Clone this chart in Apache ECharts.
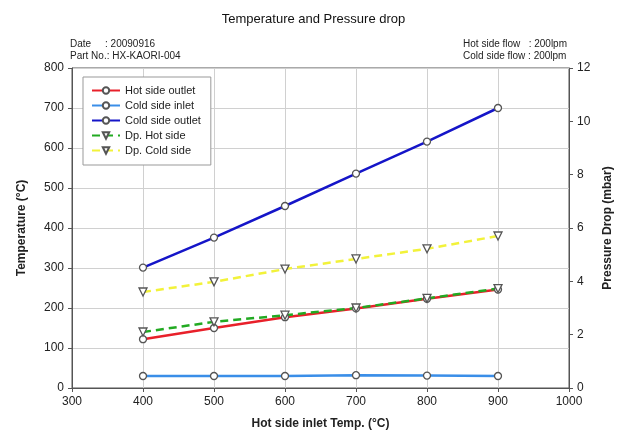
<!DOCTYPE html>
<html lang="en">
<head>
	<meta charset="UTF-8">
	<title>Temperature and Pressure drop</title>
	<style>
		html, body { margin: 0; padding: 0; background: #fff; }
		#chart_box { width: 627px; height: 443px; }
	</style>
	<script type="text/javascript" src="https://cdn.jsdelivr.net/npm/echarts@6/dist/echarts.min.js"></script>
</head>
<body>
	<div id="chart_box"></div>
	<script type="text/javascript">
	// data
	var inletTemp = [400, 500, 600, 700, 800, 900];
	var hotOutlet = [122, 150, 177, 199, 223, 246];
	var coldInlet = [30, 30, 30, 32, 31, 30];
	var coldOutlet = [301, 376, 455, 536, 616, 700];
	var dpHot = [2.1, 2.48, 2.73, 3.0, 3.36, 3.73];
	var dpCold = [3.6, 3.98, 4.46, 4.84, 5.22, 5.7];

	var pairs = function (ys) {
		var out = [];
		for (var i = 0; i < inletTemp.length; i++) out.push([inletTemp[i], ys[i]]);
		return out;
	};

	var font = 'Liberation Sans, Arial, sans-serif';
	var chart = echarts.init(document.getElementById('chart_box'));

	var lineSeries = function (name, color, ys, axis, dashed, sym) {
		return {
			name: name,
			type: 'line',
			yAxisIndex: axis,
			data: pairs(ys),
			symbol: sym,
			symbolRotate: sym === 'triangle' ? 180 : 0,
			symbolSize: sym === 'triangle' ? 8 : 7,
			showAllSymbol: true,
			lineStyle: { color: color, width: 2.5, type: dashed ? [8, 5] : 'solid' },
			itemStyle: { color: '#fff', borderColor: '#555', borderWidth: 1.3 },
			emphasis: { disabled: true },
			z: 3
		};
	};

	var option = {
		animation: false,
		textStyle: { fontFamily: font },
		title: [
			{ text: 'Temperature and Pressure drop', left: 'center', top: 8,
			  textStyle: { fontSize: 13, fontWeight: 'normal', color: '#111', fontFamily: font } }
		],
		graphic: [
			{ type: 'text', left: 70, top: 38, style: { text: 'Date     : 20090916\nPart No.: HX-KAORI-004', font: '10px ' + font, fill: '#222', lineHeight: 12 } },
			{ type: 'text', right: 60, top: 38, style: { text: 'Hot side flow   : 200lpm\nCold side flow : 200lpm', font: '10px ' + font, fill: '#222', lineHeight: 12, align: 'left' } }
		],
		legend: {
			orient: 'vertical',
			left: 83, top: 77,
			itemWidth: 28, itemHeight: 8, itemGap: 4,
			padding: [8, 10, 9, 8],
			backgroundColor: '#fff',
			borderColor: '#999', borderWidth: 1, borderRadius: 0,
			textStyle: { fontSize: 11, color: '#222', fontFamily: font, lineHeight: 11 },
			data: ['Hot side outlet', 'Cold side inlet', 'Cold side outlet', 'Dp. Hot side', 'Dp. Cold side']
		},
		grid: { left: 72, right: 58, top: 68, bottom: 55, show: true, borderColor: '#555', borderWidth: 1, backgroundColor: 'transparent' },
		xAxis: {
			type: 'value', min: 300, max: 1000, interval: 100,
			name: 'Hot side inlet Temp. (°C)', nameLocation: 'middle', nameGap: 30,
			nameTextStyle: { fontSize: 12, fontWeight: 'bold', color: '#222' },
			axisLine: { lineStyle: { color: '#555' } },
			axisTick: { inside: false, length: 4, lineStyle: { color: '#555' } },
			axisLabel: { fontSize: 12, color: '#222', margin: 8, formatter: function (v) { return String(v); } },
			splitLine: { show: true, lineStyle: { color: '#d0d0d0' } }
		},
		yAxis: [
			{
				type: 'value', min: 0, max: 800, interval: 100,
				name: 'Temperature (°C)', nameLocation: 'middle', nameGap: 44, nameRotate: 90,
				nameTextStyle: { fontSize: 12, fontWeight: 'bold', color: '#222' },
				axisLine: { show: true, lineStyle: { color: '#555' } },
				axisTick: { show: true, length: 4, lineStyle: { color: '#555' } },
				axisLabel: { fontSize: 12, color: '#222', margin: 8 },
				splitLine: { show: true, lineStyle: { color: '#d0d0d0' } }
			},
			{
				type: 'value', min: 0, max: 12, interval: 2,
				name: 'Pressure Drop (mbar)', nameLocation: 'middle', nameGap: 30, nameRotate: 90,
				nameTextStyle: { fontSize: 12, fontWeight: 'bold', color: '#222' },
				axisLine: { show: true, lineStyle: { color: '#555' } },
				axisTick: { show: true, length: 4, lineStyle: { color: '#555' } },
				axisLabel: { fontSize: 12, color: '#222', margin: 8 },
				splitLine: { show: false }
			}
		],
		series: [
			lineSeries('Hot side outlet', '#e8202a', hotOutlet, 0, false, 'circle'),
			lineSeries('Cold side inlet', '#3a8ee8', coldInlet, 0, false, 'circle'),
			lineSeries('Cold side outlet', '#1515c8', coldOutlet, 0, false, 'circle'),
			lineSeries('Dp. Hot side', '#22aa22', dpHot, 1, true, 'triangle'),
			lineSeries('Dp. Cold side', '#f2f23a', dpCold, 1, true, 'triangle')
		]
	};
	chart.setOption(option);
	</script>
</body>
</html>
